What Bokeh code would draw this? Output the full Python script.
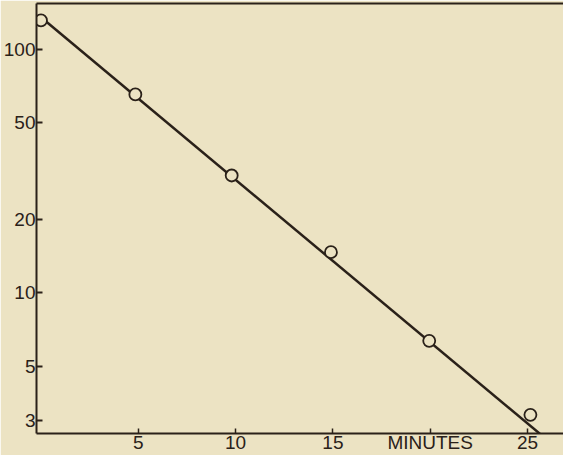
from bokeh.plotting import figure
from bokeh.models import FixedTicker, PrintfTickFormatter, LinearAxis, Range1d
from bokeh.embed import file_html
from bokeh.resources import INLINE

# Observed points (minutes, amount on log scale)
minutes = [0, 4.85, 9.8, 14.9, 19.95, 25.15]
amount = [132, 65.5, 30.4, 14.7, 6.35, 3.15]

# Fitted exponential line (end points)
fit_minutes = [0, 26]
fit_amount = [136, 2.49]

x_ticks = [5, 10, 15, 20, 25]
x_tick_labels = {5: "5", 10: "10", 15: "15", 20: "MINUTES", 25: "25"}
y_ticks = [3, 5, 10, 20, 50, 100]

BG = "#ECE3C3"
INK = "#2a2119"
FONT = "Liberation Sans"

p = figure(width=563, height=455, output_backend="svg", toolbar_location=None,
           y_axis_type="log", x_range=Range1d(-0.23, 26.85), y_range=Range1d(2.64, 155),
           background_fill_color=BG, border_fill_color=BG,
           min_border_left=35, min_border_top=3, min_border_right=0, min_border_bottom=0)
p.outline_line_color = None
p.grid.visible = False

# x axis
xa = p.xaxis[0]
xa.ticker = FixedTicker(ticks=x_ticks)
xa.major_label_overrides = x_tick_labels
xa.minor_tick_line_color = None
xa.major_tick_in = 5
xa.major_tick_out = 0
xa.major_label_standoff = -2
xa.axis_line_width = 2
xa.axis_line_color = INK
xa.major_tick_line_color = INK
xa.major_tick_line_width = 1.5
xa.major_label_text_font = FONT
xa.major_label_text_font_size = "19px"
xa.major_label_text_color = INK

# y axis
ya = p.yaxis[0]
ya.ticker = FixedTicker(ticks=y_ticks)
ya.formatter = PrintfTickFormatter(format="%d")
ya.minor_tick_line_color = None
ya.major_tick_in = 6
ya.major_tick_out = 0
ya.major_label_standoff = 1
ya.axis_line_width = 2
ya.axis_line_color = INK
ya.major_tick_line_color = INK
ya.major_tick_line_width = 2
ya.major_label_text_font = FONT
ya.major_label_text_font_size = "19px"
ya.major_label_text_color = INK

# top frame line
top = LinearAxis(ticker=FixedTicker(ticks=[]), major_label_text_font_size="0px",
                 axis_line_width=2, axis_line_color=INK,
                 major_tick_line_color=None, minor_tick_line_color=None)
p.add_layout(top, "above")

p.line(fit_minutes, fit_amount, line_color=INK, line_width=2.5)
p.scatter(minutes, amount, size=12, marker="circle", fill_color=BG,
          line_color=INK, line_width=1.8)

open("out.html", "w").write(file_html(p, INLINE))
